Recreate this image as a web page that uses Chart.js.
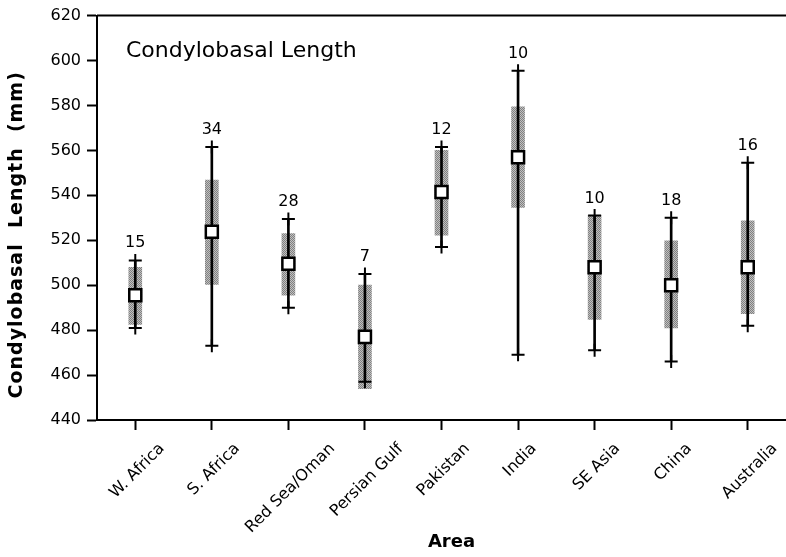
<!DOCTYPE html>
<html>
<head>
<meta charset="utf-8">
<script src="https://cdn.jsdelivr.net/npm/chart.js@4.4.1/dist/chart.umd.min.js"></script>
<style>
  html, body { margin: 0; padding: 0; background: #fff; }
  #chart { display: block; }
</style>
</head>
<body>
<canvas id="chart" width="786" height="557"></canvas>
<script>
// values (mm)
const areas = ['W. Africa', 'S. Africa', 'Red Sea/Oman', 'Persian Gulf', 'Pakistan', 'India', 'SE Asia', 'China', 'Australia'];
const sampleSizes = [15, 34, 28, 7, 12, 10, 10, 18, 16];
const means = [495.5, 523.8, 509.5, 477, 541.5, 557, 508, 500, 508];
const sdLow = [482.5, 500.3, 495.6, 454, 522.3, 534.6, 484.8, 481, 487.3];
const sdHigh = [508, 546.8, 523, 500, 560, 579.4, 531, 519.8, 528.7];
const minVals = [481, 473, 490, 457, 517, 469, 471, 466, 482];
const maxVals = [511, 561.5, 529.5, 505, 561.5, 595.5, 531, 530, 554.5];
const yTicks = [440, 460, 480, 500, 520, 540, 560, 580, 600, 620];

Chart.defaults.font.family = 'DejaVu Sans';
Chart.defaults.color = '#000';

// stippled grey fill like the printed figure
function stipple() {
    const c = document.createElement('canvas');
    c.width = 2; c.height = 2;
    const g = c.getContext('2d');
    g.fillStyle = '#c0c0c0'; g.fillRect(0, 0, 2, 2);
    g.fillStyle = '#808080'; g.fillRect(0, 0, 1, 1); g.fillRect(1, 1, 1, 1);
    return g.createPattern(c, 'repeat');
}

const extrasPlugin = {
    id: 'extras',
    afterDraw(chart) {
        const ctx = chart.ctx;
        const area = chart.chartArea;
        const xs = chart.scales.x;
        const ys = chart.scales.y;
        ctx.save();

        // top frame line
        ctx.strokeStyle = '#000';
        ctx.lineWidth = 2;
        ctx.beginPath();
        ctx.moveTo(area.left, area.top);
        ctx.lineTo(area.right, area.top);
        ctx.stroke();

        // inset title
        ctx.fillStyle = '#000';
        ctx.font = '22px "DejaVu Sans"';
        ctx.textAlign = 'left';
        ctx.textBaseline = 'alphabetic';
        ctx.fillText('Condylobasal Length', area.left + 29, area.top + 41);

        // sample sizes above each range
        ctx.font = '16px "DejaVu Sans"';
        ctx.textAlign = 'center';
        sampleSizes.forEach((n, i) => {
            ctx.fillText(String(n), xs.getPixelForValue(i), ys.getPixelForValue(maxVals[i]) - 13);
        });

        // rotated category labels, centred under each tick
        ctx.font = '16px "DejaVu Sans"';
        ctx.textBaseline = 'middle';
        areas.forEach((label, i) => {
            const x = xs.getPixelForTick(i);
            const w = ctx.measureText(label).width;
            const half = (w + 12) / 2 * Math.SQRT1_2;
            ctx.save();
            ctx.translate(x + 2, xs.top + 22 + half);
            ctx.rotate(-Math.PI / 4);
            ctx.fillText(label, 0, 0);
            ctx.restore();
        });

        // axis titles
        ctx.font = 'bold 18px "DejaVu Sans"';
        ctx.textBaseline = 'middle';
        ctx.fillText('Area', (xs.left + xs.right) / 2 + 10, 542);

        ctx.save();
        ctx.font = 'bold 19px "DejaVu Sans"';
        ctx.letterSpacing = '1px';
        ctx.translate(17, (ys.top + ys.bottom) / 2 + 17);
        ctx.rotate(-Math.PI / 2);
        ctx.fillText('Condylobasal  Length  (mm)', 0, 0);
        ctx.restore();

        ctx.restore();
    }
};

new Chart(document.getElementById('chart'), {
    type: 'bar',
    data: {
        labels: areas,
        datasets: [
            {
                type: 'line',
                label: 'Mean',
                data: means,
                showLine: false,
                pointStyle: 'rect',
                pointRadius: 8.5,
                pointBackgroundColor: '#fff',
                pointBorderColor: '#000',
                pointBorderWidth: 2.5,
                order: 0
            },
            {
                type: 'line',
                label: 'Max',
                data: maxVals,
                showLine: false,
                pointStyle: 'cross',
                pointRadius: 6.5,
                pointBorderColor: '#000',
                pointBorderWidth: 2,
                order: 1
            },
            {
                type: 'line',
                label: 'Min',
                data: minVals,
                showLine: false,
                pointStyle: 'cross',
                pointRadius: 6.5,
                pointBorderColor: '#000',
                pointBorderWidth: 2,
                order: 1
            },
            {
                label: 'Range',
                data: minVals.map((v, i) => [v, maxVals[i]]),
                backgroundColor: '#000',
                barThickness: 2,
                grouped: false,
                order: 2
            },
            {
                label: 'SD',
                data: sdLow.map((v, i) => [v, sdHigh[i]]),
                backgroundColor: stipple(),
                barThickness: 13,
                grouped: false,
                order: 3
            }
        ]
    },
    options: {
        responsive: false,
        animation: false,
        layout: { autoPadding: false, padding: { top: 14, right: 0, left: 0, bottom: 0 } },
        plugins: {
            legend: { display: false },
            tooltip: { enabled: false }
        },
        scales: {
            x: {
                offset: true,
                grid: {
                    offset: false,
                    drawOnChartArea: false,
                    drawTicks: true,
                    tickLength: 10,
                    tickWidth: 2,
                    tickColor: '#000'
                },
                border: { display: true, color: '#000', width: 2 },
                ticks: { display: false },
                afterFit(scale) { scale.height = 137; }
            },
            y: {
                min: 440,
                max: 620,
                afterBuildTicks(scale) { scale.ticks = yTicks.map(v => ({ value: v })); },
                grid: {
                    drawOnChartArea: false,
                    drawTicks: true,
                    tickLength: 10,
                    tickWidth: 2,
                    tickColor: '#000'
                },
                border: { display: true, color: '#000', width: 2 },
                ticks: { font: { size: 16 }, padding: 6 },
                afterFit(scale) { scale.width = 97; }
            }
        }
    },
    plugins: [extrasPlugin]
});
</script>
</body>
</html>
